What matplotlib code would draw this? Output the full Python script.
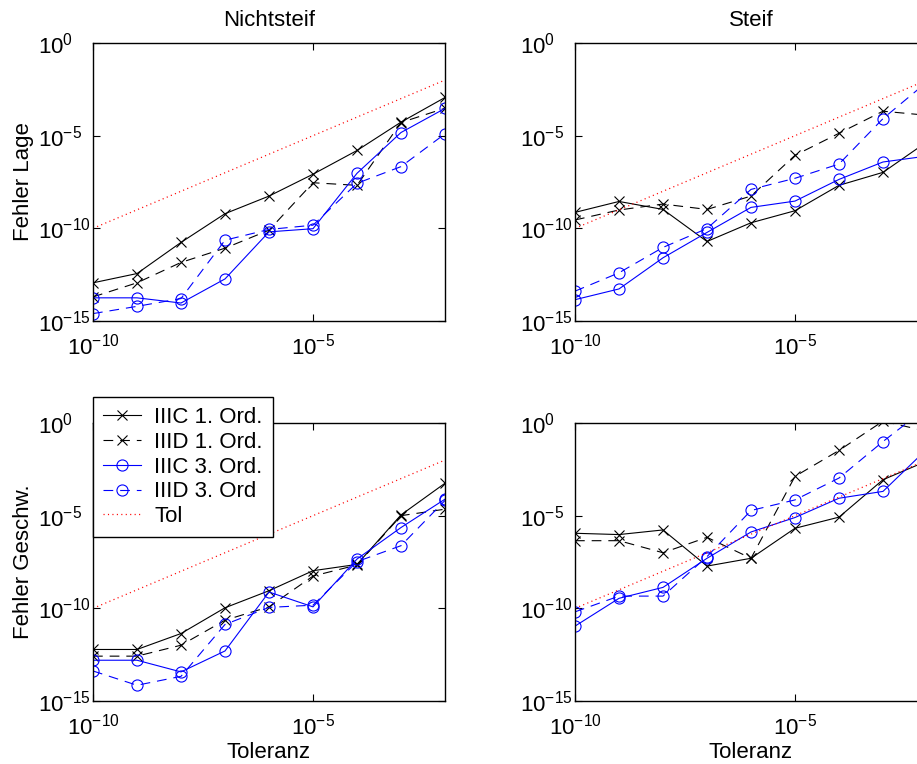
import numpy as np
import matplotlib
matplotlib.use("Agg")
import matplotlib.pyplot as plt

plt.rcParams['font.family'] = ['Liberation Sans', 'DejaVu Sans']
plt.rcParams['font.size'] = 16
plt.rcParams['mathtext.fontset'] = 'custom'
plt.rcParams['mathtext.rm'] = 'Liberation Sans'
plt.rcParams['lines.scale_dashes'] = False

# tolerances (x axis)
tol = [1e-10, 1e-9, 1e-8, 1e-7, 1e-6, 1e-5, 1e-4, 1e-3, 1e-2]

# log10 of the errors
# Fehler Lage, Nichtsteif
lage_ns_c1 = [-12.94, -12.44, -10.76, -9.21, -8.26, -7.08, -5.80, -4.27, -2.94]
lage_ns_d1 = [-13.70, -12.94, -11.84, -11.07, -10.10, -7.54, -7.68, -4.29, -3.52]
lage_ns_c3 = [-13.75, -13.75, -14.03, -12.73, -10.19, -10.02, -7.03, -4.83, -3.53]
lage_ns_d3 = [-14.60, -14.21, -13.79, -10.64, -10.06, -9.83, -7.57, -6.67, -4.90]
# Fehler Lage, Steif
lage_st_c1 = [-9.14, -8.55, -8.98, -10.71, -9.70, -9.05, -7.68, -6.98, -5.33]
lage_st_d1 = [-9.55, -9.01, -8.69, -8.98, -8.26, -6.06, -4.87, -3.68, -3.90]
lage_st_c3 = [-13.85, -13.27, -11.59, -10.22, -8.87, -8.53, -7.36, -6.42, -6.10]
lage_st_d3 = [-13.39, -12.40, -11.03, -10.01, -7.90, -7.30, -6.53, -4.08, -2.10]
# Fehler Geschw., Nichtsteif
geschw_ns_c1 = [-12.22, -12.22, -11.36, -9.97, -9.05, -7.97, -7.63, -4.96, -3.25]
geschw_ns_d1 = [-12.58, -12.58, -11.99, -10.64, -9.92, -8.26, -7.66, -5.00, -4.65]
geschw_ns_c3 = [-12.80, -12.80, -13.43, -12.30, -9.12, -9.92, -7.34, -5.64, -4.11]
geschw_ns_d3 = [-13.38, -14.15, -13.67, -10.87, -9.95, -9.83, -7.48, -6.62, -4.18]
# Fehler Geschw., Steif
geschw_st_c1 = [-5.95, -6.02, -5.77, -7.72, -7.30, -5.68, -5.08, -3.06, -2.05]
geschw_st_d1 = [-6.35, -6.35, -7.00, -6.17, -7.30, -2.88, -1.48, 0.10, -0.45]
geschw_st_c3 = [-10.96, -9.46, -8.87, -7.30, -5.88, -5.10, -4.06, -3.69, -1.40]
geschw_st_d3 = [-10.19, -9.34, -9.34, -7.21, -4.72, -4.15, -2.97, -1.00, 0.85]

labels = ['IIIC 1. Ord.', 'IIID 1. Ord.', 'IIIC 3. Ord.', 'IIID 3. Ord', 'Tol']

W, H = 917, 764
fig = plt.figure(figsize=(W / 100, H / 100), dpi=100)

def px_axes(x0, y0, x1, y1):
    return fig.add_axes([x0 / W, 1 - y1 / H, (x1 - x0) / W, (y1 - y0) / H])

# right column runs past the figure edge, as in the original
ax_tl = px_axes(93, 43, 445, 321)
ax_tr = px_axes(575, 43, 927, 321)
ax_bl = px_axes(93, 423, 445, 701)
ax_br = px_axes(575, 423, 927, 701)

def draw(ax, c1, d1, c3, d3):
    ax.loglog(tol, 10.0 ** np.array(c1), color='k', lw=0.8, marker='x', ms=7, mew=0.8)
    ax.loglog(tol, 10.0 ** np.array(d1), color='k', lw=0.8, marker='x', ms=7, mew=0.8,
              linestyle=(0, (7, 5)))
    ax.loglog(tol, 10.0 ** np.array(c3), color='#0000ff', lw=0.8, marker='o', ms=8,
              mfc='none', mew=0.8)
    ax.loglog(tol, 10.0 ** np.array(d3), color='#0000ff', lw=0.8, marker='o', ms=8,
              mfc='none', mew=0.8, linestyle=(0, (7, 5)))
    ax.loglog(tol, tol, color='#ff0000', lw=0.9, linestyle=(0, (0.8, 2.4)))
    ax.set_xlim(1e-10, 1e-2)
    ax.set_ylim(1e-15, 1e0)
    ax.set_xticks([1e-10, 1e-5])
    ax.set_yticks([1e-15, 1e-10, 1e-5, 1e0])
    ax.minorticks_off()
    ax.tick_params(which='both', direction='in', top=True, right=True, length=5,
                   width=0.8, labelsize=16)
    ax.tick_params(axis='x', pad=9)
    # y labels start at a fixed x (left aligned), like matlab does it
    ax.tick_params(axis='y', pad=39.5)
    plt.setp(ax.get_yticklabels(), ha='left')
    for s in ax.spines.values():
        s.set_linewidth(1.0)

draw(ax_tl, lage_ns_c1, lage_ns_d1, lage_ns_c3, lage_ns_d3)
draw(ax_tr, lage_st_c1, lage_st_d1, lage_st_c3, lage_st_d3)
draw(ax_bl, geschw_ns_c1, geschw_ns_d1, geschw_ns_c3, geschw_ns_d3)
draw(ax_br, geschw_st_c1, geschw_st_d1, geschw_st_c3, geschw_st_d3)

ax_tl.set_title('Nichtsteif', fontsize=16, pad=12)
ax_tr.set_title('Steif', fontsize=16, pad=12)
ax_tl.set_ylabel('Fehler Lage', fontsize=16)
ax_bl.set_ylabel('Fehler Geschw.', fontsize=16)
ax_tl.yaxis.set_label_coords(-0.168, 0.5)
ax_bl.yaxis.set_label_coords(-0.168, 0.5)
ax_bl.set_xlabel('Toleranz', fontsize=16, labelpad=2)
ax_br.set_xlabel('Toleranz', fontsize=16, labelpad=2)

leg = ax_bl.legend(ax_bl.get_lines(), labels, loc='upper left',
                   bbox_to_anchor=(93 / W, 1 - 397 / H), bbox_transform=fig.transFigure,
                   borderaxespad=0, fancybox=False, edgecolor='k', framealpha=1,
                   fontsize=16, labelspacing=0.17, handlelength=1.7, handletextpad=0.6,
                   borderpad=0.45, numpoints=1)
leg.get_frame().set_linewidth(1.0)

fig.savefig('out.png', dpi=100)
